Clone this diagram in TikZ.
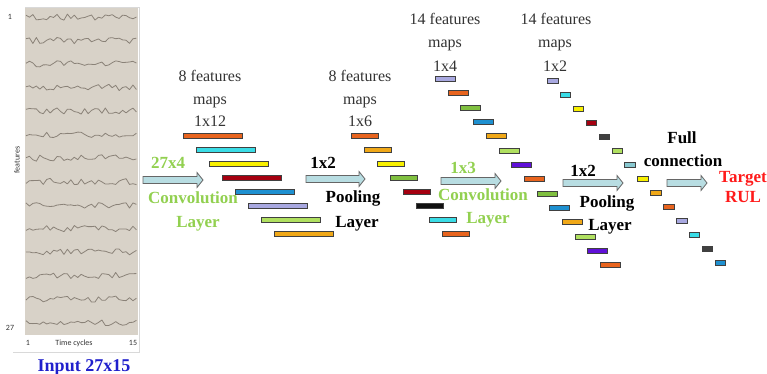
\documentclass[tikz,border=0pt]{standalone}
\usepackage{fontspec}
\setmainfont{Liberation Serif}
\newfontfamily\axisfont{Carlito}

% feature-map colours
\definecolor{orR}{HTML}{E8641E}
\definecolor{cyanb}{HTML}{3ADCE6}
\definecolor{yel}{HTML}{F8F000}
\definecolor{dred}{HTML}{A50010}
\definecolor{blu}{HTML}{1E90D0}
\definecolor{lav}{HTML}{A8A8E0}
\definecolor{lgrn}{HTML}{B0E060}
\definecolor{org}{HTML}{F0A818}
\definecolor{grn}{HTML}{80C040}
\definecolor{blk}{HTML}{101010}
\definecolor{purp}{HTML}{6010D8}
\definecolor{dgray}{HTML}{404040}
\definecolor{lbg}{HTML}{88C8D0}
% text and panel colours
\definecolor{convgreen}{HTML}{92D050}
\definecolor{inblue}{HTML}{2020CC}
\definecolor{tgtred}{HTML}{FF1A1A}
\definecolor{arrowfill}{HTML}{B8DDE2}
\definecolor{panel}{HTML}{D8D2C8}
\definecolor{trace}{HTML}{8A8278}

% block arrow: tail x, tip x, y
\newcommand{\blockarrow}[3]{%
  \draw[flow] (#1,#3-3.5) -- (#2-6,#3-3.5) -- (#2-6,#3-7.5) -- (#2,#3)
    -- (#2-6,#3+7.5) -- (#2-6,#3+3.5) -- (#1,#3+3.5) -- cycle;}

\begin{document}
\begin{tikzpicture}[x=1pt,y=-1pt,
  fmap/.style={draw=black!75, line width=0.6pt, minimum height=5pt,
    inner sep=0pt, anchor=west},
  mapcap/.style={text=black!80, font=\fontsize{16}{16}\selectfont,
    inner sep=0pt, anchor=base},
  lab/.style={font=\fontsize{17}{17}\selectfont\bfseries,
    inner sep=0pt, anchor=base},
  tick/.style={font=\axisfont\fontsize{8}{8}\selectfont, text=black!80,
    inner sep=0pt},
  flow/.style={draw=black!60, fill=arrowfill, line width=0.8pt,
    line join=miter},
  wave/.style={draw=trace, line width=0.8pt, line join=round},
]
\useasboundingbox (0,0) rectangle (767,374);

% ---- input sample: 27 features over 15 time cycles ----
\fill[panel] (25,7) rectangle (138,335);
\draw[black!15, line width=0.6pt] (13,352) -- (139,352) -- (139,7) -- (25,7);
\pgfmathsetseed{42}
\foreach \k in {0,...,13}{
  \pgfmathsetmacro{\yy}{17+23.5*\k}
  \draw[wave] (26,{\yy+3*rand})
    \foreach \j in {1,...,32}{ -- ({26+\j*3.45},{\yy+3.2*rand}) };
}
\node[tick] (t1)  at (10,17)  {1};
\node[tick] (t27) at (10,328) {27};
\node[tick] (x1)  at (28,343) {1};
\node[tick] (xl)  at (74,343) {Time cycles};
\node[tick] (x15) at (133,343) {15};
\node[tick, rotate=90] (yl) at (17,160) {features};
\node[font=\fontsize{18}{18}\selectfont\bfseries, text=inblue,
  inner sep=0pt, anchor=base] (inp) at (84,371) {Input 27x15};

% ---- convolution 1: 8 maps 1x12 ----
\foreach \c [count=\i from 0] in {orR,cyanb,yel,dred,blu,lav,lgrn,org}
  \node[fmap, fill=\c, minimum width=59pt] (ca\i) at ({183+13*\i},{136+14*\i}) {};
\node[mapcap] (ca1) at (210,82)  {8 features};
\node[mapcap] (ca2) at (210,105) {maps};
\node[mapcap] (ca3) at (210,127) {1x12};

% ---- pooling 1: 8 maps 1x6 ----
\foreach \c [count=\i from 0] in {orR,org,yel,grn,dred,blk,cyanb,orR}
  \node[fmap, fill=\c, minimum width=27pt] (pa\i) at ({351+13*\i},{136+14*\i}) {};
\node[mapcap] (pa1) at (360,82)  {8 features};
\node[mapcap] (pa2) at (360,105) {maps};
\node[mapcap] (pa3) at (360,127) {1x6};

% ---- convolution 2: 14 maps 1x4 ----
\foreach \c [count=\i from 0] in {lav,orR,grn,blu,org,lgrn,purp,orR,grn,blu,org,lgrn,purp,orR}
  \node[fmap, fill=\c, minimum width=20pt] (cb\i) at ({435+12.7*\i},{79+14.3*\i}) {};
\node[mapcap] (cb1) at (445,25) {14 features};
\node[mapcap] (cb2) at (445,48) {maps};
\node[mapcap] (cb3) at (445,72) {1x4};

% ---- pooling 2: 14 maps 1x2 ----
\foreach \c [count=\i from 0] in {lav,cyanb,yel,dred,dgray,lgrn,lbg,yel,org,orR,lav,cyanb,dgray,blu}
  \node[fmap, fill=\c, minimum width=10.5pt] (pb\i) at ({547+12.9*\i},{81+14*\i}) {};
\node[mapcap] (pb1) at (556,25) {14 features};
\node[mapcap] (pb2) at (555,48) {maps};
\node[mapcap] (pb3) at (555,72) {1x2};

% ---- layer arrows and their labels ----
\blockarrow{143}{203}{180}
\node[lab, text=convgreen] (k1) at (168,168) {27x4};
\node[lab, text=convgreen] (l1a) at (193,203) {Convolution};
\node[lab, text=convgreen] (l1b) at (198,227) {Layer};

\blockarrow{306}{365}{179}
\node[lab] (k2) at (323,168) {1x2};
\node[lab] (l2a) at (353,202) {Pooling};
\node[lab] (l2b) at (357,227) {Layer};

\blockarrow{441}{501}{181}
\node[lab, text=convgreen] (k3) at (463,173) {1x3};
\node[lab, text=convgreen] (l3a) at (483,200) {Convolution};
\node[lab, text=convgreen] (l3b) at (488,223) {Layer};

\blockarrow{563}{623}{183}
\node[lab] (k4) at (583,176) {1x2};
\node[lab] (l4a) at (607,207) {Pooling};
\node[lab] (l4b) at (610,230) {Layer};

\blockarrow{667}{707}{183}
\node[lab] (fc1) at (682,143) {Full};
\node[lab] (fc2) at (683,166) {connection};

\node[lab, text=tgtred] (tg1) at (743,182) {Target};
\node[lab, text=tgtred] (tg2) at (743,202) {RUL};
\end{tikzpicture}
\end{document}
